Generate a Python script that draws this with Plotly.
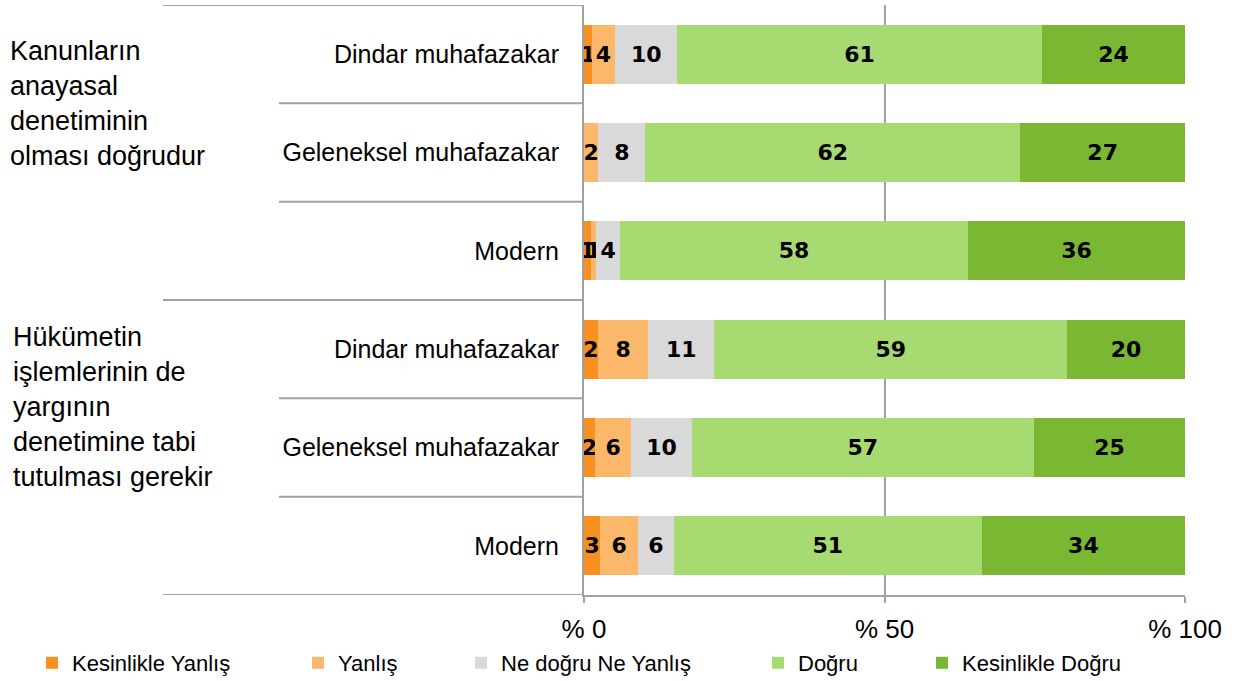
import plotly.graph_objects as go

# ---------------- data ----------------
row_labels = ["Dindar muhafazakar", "Geleneksel muhafazakar", "Modern",
              "Dindar muhafazakar", "Geleneksel muhafazakar", "Modern"]
group_labels = ["Kanunların<br>anayasal<br>denetiminin<br>olması doğrudur",
                "Hükümetin<br>işlemlerinin de<br>yargının<br>denetimine tabi<br>tutulması gerekir"]
series_names = ["Kesinlikle Yanlış", "Yanlış", "Ne doğru Ne Yanlış", "Doğru", "Kesinlikle Doğru"]

kesinlikle_yanlis = [1.3, 0.0, 1.1, 2.3, 1.8, 2.7]
yanlis = [3.9, 2.4, 0.9, 8.4, 6.1, 6.3]
ne_dogru_ne_yanlis = [10.3, 7.8, 4.0, 11.0, 10.0, 5.9]
dogru = [60.7, 62.4, 57.9, 58.7, 57.0, 51.3]
kesinlikle_dogru = [23.8, 27.4, 36.1, 19.6, 25.1, 33.8]

x_tick_vals = [0, 50, 100]
x_tick_text = ["% 0", "% 50", "% 100"]

# ---------------- style ----------------
colors = ["#F7901E", "#FBB86B", "#D9D9D9", "#A8DA72", "#7AB733"]
legend_text_px = [73, 339, 502, 799, 963]
FONT = "Liberation Sans, Arial, sans-serif"
LINE = "#A0A0A0"

W, H = 1240, 681
L, R, T, B = 584, 55, 5, 86
PW = W - L - R
PH = H - T - B


def px2x(px):
    return (px - L) / PW


def py2y(py):
    return (H - B - py) / PH


series_values = [kesinlikle_yanlis, yanlis, ne_dogru_ne_yanlis, dogru, kesinlikle_dogru]
ypos = list(range(len(row_labels)))

fig = go.Figure()
for i, (name, vals, col) in enumerate(zip(series_names, series_values, colors)):
    lg = "legend" if i == 0 else f"legend{i + 1}"
    fig.add_trace(go.Bar(
        y=ypos, x=vals, name=name, orientation="h",
        marker=dict(color=col, line=dict(width=0)),
        width=0.6,
        text=[f"{v:.0f}" if v > 0 else "" for v in vals],
        textposition="inside", insidetextanchor="middle", textangle=0,
        constraintext="none",
        textfont=dict(family="DejaVu Sans, Verdana, sans-serif", size=22, color="black", weight="bold"),
        legend=lg,
        hoverinfo="x+name",
    ))

shapes = []
for yv, x0 in [(-0.5, 163), (0.5, 279), (1.5, 279), (2.5, 163), (3.5, 279), (4.5, 279), (5.5, 163)]:
    shapes.append(dict(type="line", xref="paper", yref="y", x0=px2x(x0), x1=0, y0=yv, y1=yv,
                       line=dict(color=LINE, width=2)))

annotations = [
    dict(text=group_labels[0], xref="paper", yref="paper", x=px2x(8), y=py2y(34),
         xanchor="left", yanchor="top", align="left", showarrow=False,
         font=dict(family=FONT, size=27, color="black")),
    dict(text=group_labels[1], xref="paper", yref="paper", x=px2x(11), y=py2y(320),
         xanchor="left", yanchor="top", align="left", showarrow=False,
         font=dict(family=FONT, size=27, color="black")),
]

layout = dict(
    width=W, height=H,
    margin=dict(l=L, r=R, t=T, b=B, pad=0, autoexpand=False),
    paper_bgcolor="white", plot_bgcolor="white",
    barmode="stack", bargap=0.4,
    uniformtext=dict(minsize=22, mode="show"),
    xaxis=dict(range=[0, 100], tickvals=x_tick_vals, ticktext=x_tick_text,
               showgrid=True, gridcolor=LINE, gridwidth=2, zeroline=False,
               showline=True, linecolor=LINE, linewidth=2,
               ticks="outside", ticklen=6, tickcolor=LINE, tickwidth=2,
               ticklabelstandoff=4,
               tickfont=dict(family=FONT, size=26, color="black"), fixedrange=True),
    yaxis=dict(range=[5.5, -0.5], tickvals=ypos, ticktext=row_labels,
               showgrid=False, zeroline=False, showline=True, linecolor=LINE, linewidth=2,
               ticks="", ticklabelstandoff=18,
               tickfont=dict(family=FONT, size=25, color="black"), fixedrange=True),
    shapes=shapes,
    annotations=annotations,
    showlegend=True,
)

for i, tx in enumerate(legend_text_px):
    key = "legend" if i == 0 else f"legend{i + 1}"
    layout[key] = dict(x=px2x(tx - 41), y=py2y(663), xanchor="left", yanchor="middle",
                       orientation="h", bgcolor="rgba(0,0,0,0)", borderwidth=0,
                       font=dict(family=FONT, size=22, color="black"),
                       itemwidth=30, traceorder="normal")

fig.update_layout(**layout)
fig.write_html("out.html", post_script="document.body.style.margin='0';",
               config={"displayModeBar": False})
